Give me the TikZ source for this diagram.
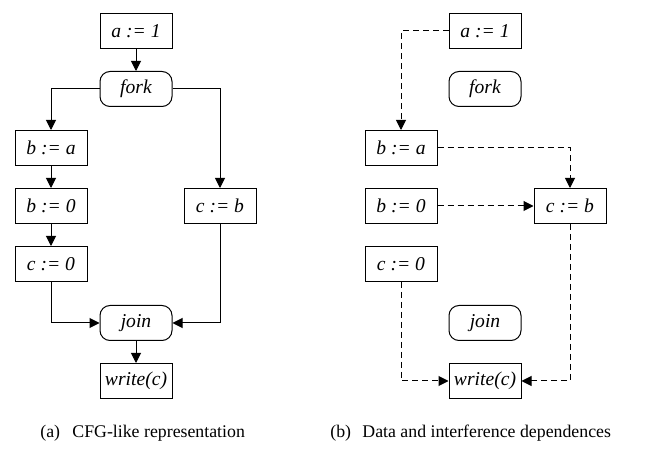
\documentclass[tikz,border=0pt]{standalone}
\usepackage{fontspec}
\setmainfont{Liberation Serif}
\usetikzlibrary{arrows.meta}
\begin{document}
\begin{tikzpicture}[x=0.5pt,y=-0.5pt,
  stmt/.style={draw, line width=0.5pt, minimum width=36pt, minimum height=17.5pt,
    inner sep=0pt, font=\fontsize{9.8}{11}\selectfont\itshape},
  sync/.style={stmt, rounded corners=5pt},
  arr/.style={line width=0.5pt, -{Triangle[length=5pt,width=5pt]}},
  darr/.style={arr, dash pattern=on 3pt off 2pt},
  captext/.style={font=\fontsize{8.9}{10}\selectfont, anchor=west, inner sep=0pt}]
\useasboundingbox (0,0) rectangle (654,454);

% (a) control-flow style graph
\node[stmt] (a1)  at (136,31)  {a := 1};
\node[sync] (fk)  at (136,89)  {fork};
\node[stmt] (ba)  at (51,148)  {b := a};
\node[stmt] (b0)  at (51,206)  {b := 0};
\node[stmt] (c0)  at (51,264)  {c := 0};
\node[stmt] (cb)  at (220,206) {c := b};
\node[sync] (jn)  at (136,323) {join};
\node[stmt] (wr)  at (136,381) {write(c)};

\draw[arr] (a1) -- (fk);
\draw[arr] (fk.west) -| (ba.north);
\draw[arr] (fk.east) -| (cb.north);
\draw[arr] (ba) -- (b0);
\draw[arr] (b0) -- (c0);
\draw[arr] (c0.south) |- (jn.west);
\draw[arr] (cb.south) |- (jn.east);
\draw[arr] (jn) -- (wr);

% (b) data and interference dependences
\node[stmt] (a1r) at (485,31)  {a := 1};
\node[sync] (fkr) at (485,89)  {fork};
\node[stmt] (bar) at (401,148) {b := a};
\node[stmt] (b0r) at (401,206) {b := 0};
\node[stmt] (c0r) at (401,264) {c := 0};
\node[stmt] (cbr) at (570,206) {c := b};
\node[sync] (jnr) at (485,323) {join};
\node[stmt] (wrr) at (485,381) {write(c)};

\draw[darr] (a1r.west) -| (bar.north);
\draw[darr] (bar.east) -| (cbr.north);
\draw[darr] (b0r) -- (cbr);
\draw[darr] (c0r.south) |- (wrr.west);
\draw[darr] (cbr.south) |- (wrr.east);

% captions
\node[captext] (capal) at (40,433)  {(a)};
\node[captext] (capa)  at (72,433)  {CFG-like representation};
\node[captext] (capbl) at (330,433) {(b)};
\node[captext] (capb)  at (362,433) {Data and interference dependences};
\end{tikzpicture}
\end{document}
